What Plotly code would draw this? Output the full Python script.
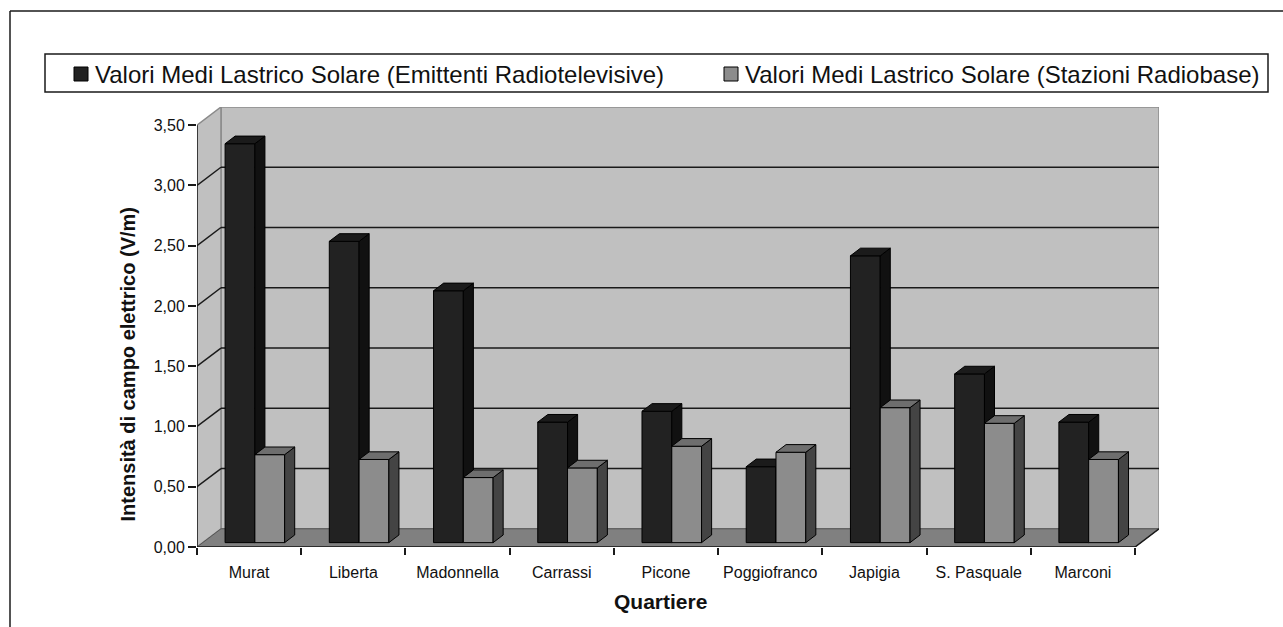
import plotly.graph_objects as go

# Dati per quartiere (V/m)
quartieri = ["Murat", "Liberta", "Madonnella", "Carrassi", "Picone",
             "Poggiofranco", "Japigia", "S. Pasquale", "Marconi"]
emittenti = [3.31, 2.50, 2.09, 1.00, 1.09, 0.63, 2.38, 1.40, 1.00]
stazioni = [0.73, 0.69, 0.54, 0.62, 0.80, 0.75, 1.12, 0.99, 0.69]
serie = ["Valori Medi Lastrico Solare (Emittenti Radiotelevisive)",
         "Valori Medi Lastrico Solare (Stazioni Radiobase)"]
y_ticks = [0.0, 0.5, 1.0, 1.5, 2.0, 2.5, 3.0, 3.5]

# Figure geometry
W, H = 1283, 627
ML, MR, MT, MB = 197, 124, 107, 80
PW, PH = W - ML - MR, H - MT - MB
N = len(quartieri)
YMAX = y_ticks[-1]

# Pseudo-3D depth of the chart box, in axis units
DX = 0.23     # categories
DY = 0.151    # value units
# bars sit between these depth fractions
F0, F1 = 0.24, 0.66
BW = 1 / 3.5  # bar width (gap width 150%)

FONT = "Liberation Sans, Arial, sans-serif"

colors = {
    0: dict(front="#222222", side="#111111", top="#1b1b1b"),
    1: dict(front="#8c8c8c", side="#444444", top="#6e6e6e"),
}


def px_x(p):
    return (p - ML) / PW


def px_y(p):
    return (H - MB - p) / PH


fig = go.Figure()

ddx = (F1 - F0) * DX
ddy = (F1 - F0) * DY
base = F0 * DY

for s, values in enumerate([emittenti, stazioni]):
    centers, side_x, side_y, top_x, top_y = [], [], [], [], []
    for i, v in enumerate(values):
        xl = i + F0 * DX + (1 - 2 * BW) / 2 + s * BW
        xr = xl + BW
        centers.append((xl + xr) / 2)
        t = v + base
        side_x += [xr, xr + ddx, xr + ddx, xr, xr, None]
        side_y += [base, base + ddy, t + ddy, t, base, None]
        top_x += [xl, xr, xr + ddx, xl + ddx, xl, None]
        top_y += [t, t, t + ddy, t + ddy, t, None]
    c = colors[s]
    fig.add_trace(go.Bar(
        x=centers, y=values, base=base, width=BW, name=serie[s],
        marker=dict(color=c["front"], line=dict(color="#000000", width=1)),
        zorder=s + 1, showlegend=False, hoverinfo="skip"))
    fig.add_trace(go.Scatter(
        x=side_x, y=side_y, mode="lines", fill="toself", fillcolor=c["side"],
        line=dict(color="#000000", width=1), zorder=s + 1,
        showlegend=False, hoverinfo="skip"))
    fig.add_trace(go.Scatter(
        x=top_x, y=top_y, mode="lines", fill="toself", fillcolor=c["top"],
        line=dict(color="#000000", width=1), zorder=s + 1,
        showlegend=False, hoverinfo="skip"))

shapes = []
WALL = "#c0c0c0"
EDGE = "#8a8a8a"
DARK = "#1a1a1a"


def poly(xs, ys, fill, line_color, width=1.0):
    path = "M " + " L ".join(f"{x},{y}" for x, y in zip(xs, ys)) + " Z"
    return dict(type="path", path=path, xref="x", yref="y", layer="below",
                fillcolor=fill, line=dict(color=line_color, width=width))


# back wall, left wall, floor
shapes.append(poly([DX, N + DX, N + DX, DX], [DY, DY, YMAX + DY, YMAX + DY], WALL, EDGE, 1.5))
shapes.append(poly([0, DX, DX, 0], [0, DY, YMAX + DY, YMAX], WALL, EDGE, 1.5))
shapes.append(poly([0, N, N + DX, DX], [0, 0, DY, DY], "#808080", "#555555", 1.0))

# gridlines on the walls
for v in y_ticks[1:-1]:
    shapes.append(dict(type="line", xref="x", yref="y", layer="below",
                       x0=DX, x1=N + DX, y0=v + DY, y1=v + DY,
                       line=dict(color=DARK, width=1.5)))
    shapes.append(dict(type="line", xref="x", yref="y", layer="below",
                       x0=0, x1=DX, y0=v, y1=v + DY,
                       line=dict(color=DARK, width=1.5)))

# front axis lines
shapes.append(dict(type="line", xref="x", yref="y", layer="below",
                   x0=0, x1=0, y0=0, y1=YMAX, line=dict(color=DARK, width=1.5)))
shapes.append(dict(type="line", xref="x", yref="y", layer="below",
                   x0=0, x1=N, y0=0, y1=0, line=dict(color=DARK, width=1.5)))
shapes.append(dict(type="line", xref="x", yref="y", layer="below",
                   x0=N, x1=N + DX, y0=0, y1=DY, line=dict(color=DARK, width=1.5)))

# outer frame
shapes.append(dict(type="line", xref="paper", yref="paper",
                   x0=px_x(10), x1=px_x(10), y0=px_y(H + 5), y1=px_y(11),
                   line=dict(color=DARK, width=1.5)))
shapes.append(dict(type="line", xref="paper", yref="paper",
                   x0=px_x(10), x1=px_x(W + 5), y0=px_y(11), y1=px_y(11),
                   line=dict(color=DARK, width=1.5)))

# legend box and keys
shapes.append(dict(type="rect", xref="paper", yref="paper",
                   x0=px_x(45), x1=px_x(1268), y0=px_y(92), y1=px_y(54),
                   fillcolor="white", line=dict(color=DARK, width=1.5)))
legend_x = [74, 724]
annotations = []
for s, lx in enumerate(legend_x):
    shapes.append(dict(type="rect", xref="paper", yref="paper",
                       x0=px_x(lx), x1=px_x(lx + 14), y0=px_y(81), y1=px_y(67),
                       fillcolor=colors[s]["front"], line=dict(color="#000000", width=1)))
    annotations.append(dict(xref="paper", yref="paper", x=px_x(lx + 19), y=px_y(74),
                            xanchor="left", yanchor="middle", showarrow=False,
                            text=serie[s], font=dict(family=FONT, size=24, color="#111111")))

annotations.append(dict(xref="paper", yref="paper", x=px_x(127.5), y=px_y(364),
                        xanchor="center", yanchor="middle", showarrow=False, textangle=-90,
                        text="<b>Intensità di campo elettrico (V/m)</b>",
                        font=dict(family=FONT, size=20, color="#111111")))
annotations.append(dict(xref="paper", yref="paper", x=px_x(660), y=px_y(601),
                        xanchor="center", yanchor="middle", showarrow=False,
                        text="<b>Quartiere</b>",
                        font=dict(family=FONT, size=21, color="#111111")))

fig.update_layout(
    width=W, height=H,
    margin=dict(l=ML, r=MR, t=MT, b=MB, pad=0),
    paper_bgcolor="white", plot_bgcolor="white",
    separators=",.",
    barmode="overlay",
    shapes=shapes, annotations=annotations,
    showlegend=False,
    xaxis=dict(range=[0, N + DX], showgrid=False, zeroline=False, showline=False,
               tickvals=[i + 0.5 for i in range(N)], ticktext=quartieri,
               ticks="outside", ticklen=11, tickcolor="rgba(0,0,0,0)",
               tickfont=dict(family=FONT, size=16, color="#111111"),
               minor=dict(tickvals=list(range(N + 1)), ticks="outside", ticklen=7,
                          tickcolor=DARK, tickwidth=1.5, showgrid=False),
               fixedrange=True),
    yaxis=dict(range=[0, YMAX + DY], showgrid=False, zeroline=False, showline=False,
               tickvals=y_ticks, tickformat=".2f", ticks="outside", ticklen=8,
               tickcolor=DARK, tickwidth=1.5,
               tickfont=dict(family=FONT, size=16, color="#111111"),
               fixedrange=True),
)

fig.write_html("out.html")
